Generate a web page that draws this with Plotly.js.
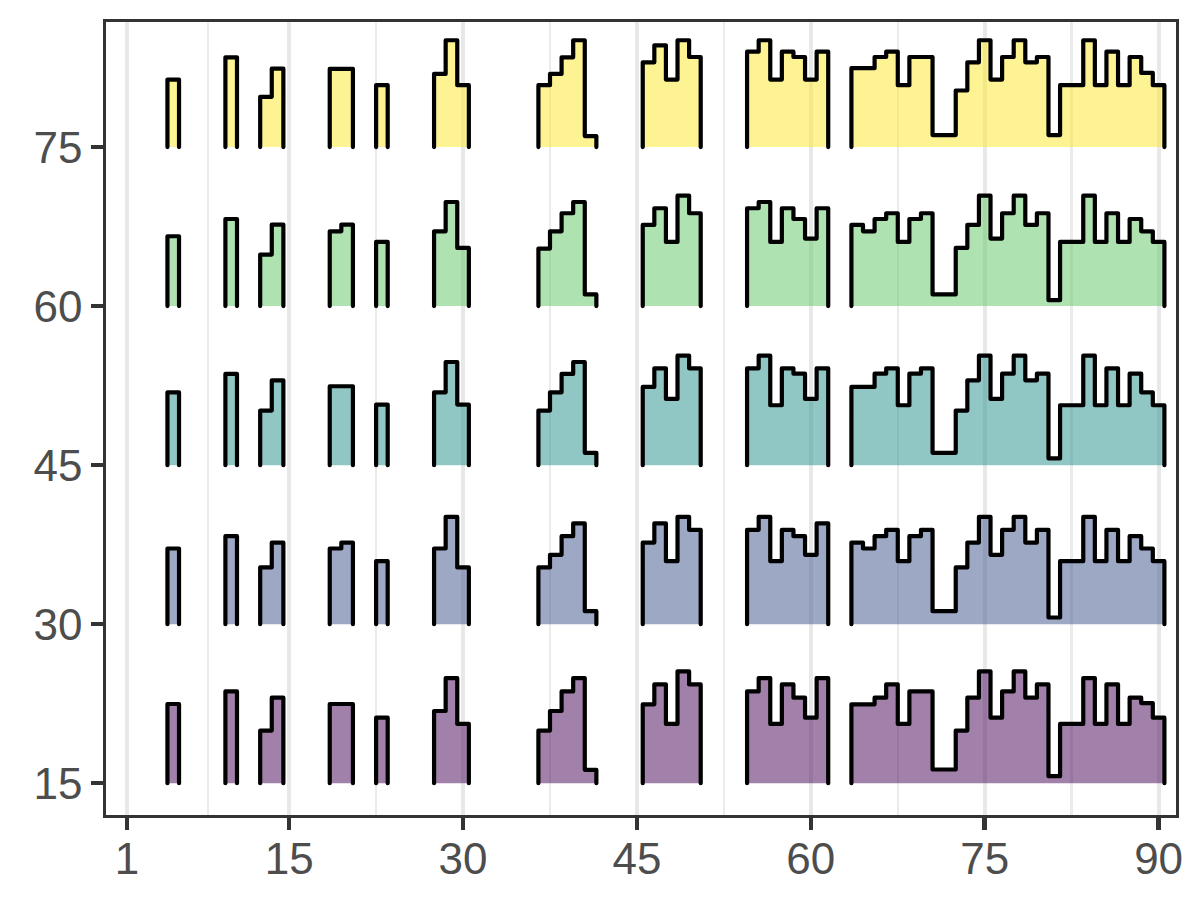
<!DOCTYPE html>
<html>
<head>
<meta charset="utf-8">
<script src="https://cdn.plot.ly/plotly-3.0.1.min.js"></script>
<style>
  html, body { margin: 0; padding: 0; background: #ffffff; }
  #chart { width: 1200px; height: 900px; }
  .scatterlayer path.js-line { stroke-linejoin: round; stroke-linecap: round; }
</style>
</head>
<body>
<div id="chart"></div>
<script>
// bin centres (width 1), same for every row
var xBins = [5, 10, 13, 14, 19, 20, 23, 28, 29, 30,
  37, 38, 39, 40, 41,
  46, 47, 48, 49, 50,
  55, 56, 57, 58, 59, 60, 61,
  64, 65, 66, 67, 68, 69, 70, 71, 72, 73, 74, 75, 76, 77, 78, 79, 80,
  81, 82, 83, 84, 85, 86, 87, 88, 89, 90];

var rowBase = [15, 30, 45, 60, 75];
var rowColors = ['rgba(68,1,84,0.5)', 'rgba(59,82,139,0.5)', 'rgba(33,144,140,0.5)',
  'rgba(93,200,99,0.5)', 'rgba(253,231,37,0.5)'];

var heights15 = [7.47, 8.66, 4.96, 8.07, 7.47, 7.47, 6.18, 6.81, 9.92, 5.59,
  4.96, 6.81, 8.66, 9.92, 1.26,
  7.44, 9.32, 5.59, 10.55, 9.32,
  8.66, 9.92, 5.59, 9.32, 8.07, 6.18, 9.92,
  7.44, 7.44, 8.07, 9.32, 5.59, 8.66, 8.66, 1.29, 1.29, 4.96, 8.07, 10.55, 6.18, 8.66, 10.55, 8.07, 9.32,
  0.66, 5.59, 5.59, 9.92, 5.59, 9.32, 5.59, 8.07, 7.56, 6.18];

var heights30 = [7.14, 8.3, 5.35, 7.7, 7.14, 7.7, 5.94, 7.14, 10.13, 5.35,
  5.35, 6.54, 8.3, 9.5, 1.23,
  7.7, 9.5, 5.94, 10.13, 8.9,
  8.9, 10.13, 5.94, 8.9, 8.3, 6.54, 9.5,
  7.7, 7.14, 8.3, 8.9, 5.94, 8.3, 8.9, 1.23, 1.23, 5.35, 7.7, 10.13, 6.54, 8.9, 10.13, 7.7, 8.9,
  0.63, 5.94, 5.94, 10.13, 5.94, 8.9, 5.94, 8.3, 7.14, 5.94];

var heights45 = [6.87, 8.6, 5.15, 8.0, 7.44, 7.44, 5.71, 6.87, 9.73, 5.71,
  5.15, 6.87, 8.6, 9.73, 1.16,
  7.38, 9.13, 6.25, 10.33, 9.13,
  9.13, 10.33, 5.65, 9.13, 8.63, 6.25, 9.13,
  7.38, 7.38, 8.63, 9.13, 5.65, 8.63, 9.13, 1.16, 1.16, 5.15, 8.0, 10.33, 6.25, 8.63, 10.33, 8.0, 8.63,
  0.63, 5.65, 5.65, 10.33, 5.65, 9.13, 5.65, 8.63, 6.87, 5.65];

var heights60 = [6.59, 8.22, 4.86, 7.69, 7.06, 7.69, 6.06, 7.06, 9.82, 5.49,
  5.43, 7.06, 8.76, 9.82, 1.10,
  7.66, 9.23, 6.06, 10.42, 8.76,
  9.23, 9.82, 6.06, 9.23, 8.22, 6.37, 9.23,
  7.66, 7.06, 8.22, 8.76, 6.06, 8.22, 8.76, 1.10, 1.10, 5.49, 7.66, 10.42, 6.37, 8.76, 10.42, 7.66, 8.76,
  0.56, 6.06, 6.06, 10.42, 6.06, 8.76, 6.06, 8.22, 7.06, 6.06];

var heights75 = [6.37, 8.47, 4.74, 7.41, 7.38, 7.38, 5.84, 6.9, 10.08, 5.84,
  5.84, 6.9, 8.47, 10.08, 1.04,
  8.0, 9.6, 6.37, 10.08, 8.5,
  9.0, 10.08, 6.37, 9.0, 8.5, 6.37, 9.0,
  7.44, 7.44, 8.5, 9.0, 5.84, 8.5, 8.5, 1.13, 1.13, 5.34, 8.0, 10.08, 6.37, 8.5, 10.08, 8.0, 8.5,
  1.13, 5.84, 5.84, 10.08, 5.84, 9.0, 5.84, 8.5, 7.0, 5.84];

var xTicks = [1, 15, 30, 45, 60, 75, 90];
var xMinor = [8, 22.5, 37.5, 52.5, 67.5, 82.5];
var yTicks = [15, 30, 45, 60, 75];

var allHeights = [heights15, heights30, heights45, heights60, heights75];

// step outline for one ridge, open at the baseline, gaps between runs
function stepPath(xs, hs, base) {
  var px = [], py = [];
  for (var i = 0; i < xs.length; i++) {
    var startRun = (i === 0 || xs[i] - xs[i - 1] !== 1);
    if (startRun) {
      if (i > 0) { px.push(null); py.push(null); }
      px.push(xs[i] - 0.5); py.push(base);
    }
    px.push(xs[i] - 0.5); py.push(base + hs[i]);
    px.push(xs[i] + 0.5); py.push(base + hs[i]);
    var endRun = (i === xs.length - 1 || xs[i + 1] - xs[i] !== 1);
    if (endRun) { px.push(xs[i] + 0.5); py.push(base); }
  }
  return {x: px, y: py};
}

var traces = [];
for (var r = rowBase.length - 1; r >= 0; r--) {
  var p = stepPath(xBins, allHeights[r], rowBase[r]);
  traces.push({
    x: p.x, y: p.y,
    type: 'scatter', mode: 'lines',
    fill: 'toself', fillcolor: rowColors[r],
    line: {color: '#000000', width: 4.2},
    connectgaps: false,
    hoverinfo: 'skip',
    showlegend: false
  });
}

var tickFont = {family: 'Liberation Sans, Arial, sans-serif', size: 44, color: '#4d4d4d'};

var layout = {
  width: 1200, height: 900,
  margin: {l: 106, r: 24, t: 22, b: 85},
  paper_bgcolor: '#ffffff', plot_bgcolor: '#ffffff',
  showlegend: false,
  xaxis: {
    range: [-0.8, 91.5],
    tickmode: 'array', tickvals: xTicks, ticktext: xTicks.map(String),
    showgrid: true, gridcolor: '#e8e8e8', gridwidth: 4,
    minor: {tickmode: 'array', tickvals: xMinor, showgrid: true, gridcolor: '#ebebeb', gridwidth: 2.5, ticks: ''},
    zeroline: false,
    ticks: 'outside', ticklen: 12, tickwidth: 4.5, tickcolor: '#333333',
    ticklabelstandoff: -9,
    showline: true, mirror: true, linecolor: '#333333', linewidth: 2.7,
    tickfont: tickFont
  },
  yaxis: {
    range: [12.0, 86.8],
    tickmode: 'array', tickvals: yTicks, ticktext: yTicks.map(String),
    showgrid: false, zeroline: false,
    ticks: 'outside', ticklen: 12, tickwidth: 4.5, tickcolor: '#333333',
    showline: true, mirror: true, linecolor: '#333333', linewidth: 2.7,
    tickfont: tickFont
  }
};

Plotly.newPlot('chart', traces, layout, {staticPlot: true, displayModeBar: false});
</script>
</body>
</html>
